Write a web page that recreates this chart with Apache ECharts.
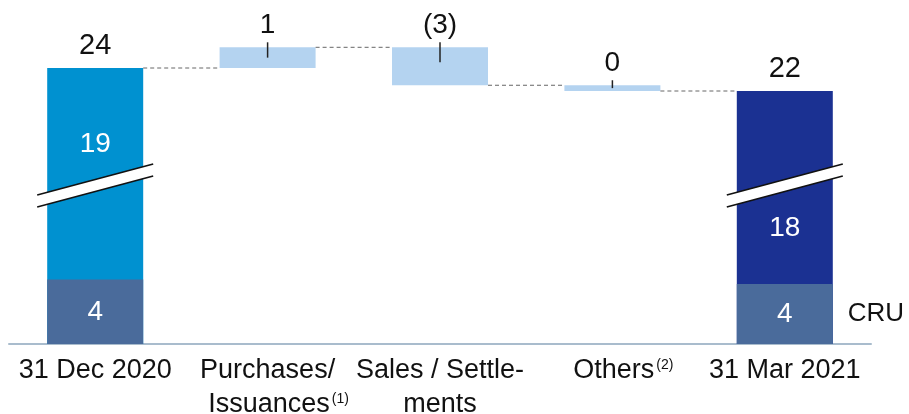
<!DOCTYPE html>
<html>
<head>
<meta charset="utf-8">
<script src="https://cdn.jsdelivr.net/npm/echarts@6/dist/echarts.min.js"></script>
<style>
  html, body { margin: 0; padding: 0; background: #fff; }
  #chart { width: 909px; height: 414px; }
</style>
</head>
<body>
<div id="chart"></div>
<script>
// data
const categories = ['31 Dec 2020', 'Purchases/\nIssuances', 'Sales / Settle-\nments', 'Others', '31 Mar 2021'];
const footnotes = ['', '(1)', '', '(2)', ''];
const openTotal = 24.0;
const closeTotal = 22.0;
const changes = [1.8, -3.3, -0.5];
const changeLabels = ['1', '(3)', '0'];
const cruValues = [4.3, 4.0]; // drawn on its own (broken) scale
const mainLabels = ['19', '18'];

const FONT = '"Liberation Sans", Arial, sans-serif';

// waterfall pieces
const totals = [openTotal, '-', '-', '-', closeTotal];
const base = ['-'];
const delta = ['-'];
const levels = [openTotal];
const ticks = [];
let level = openTotal;
changes.forEach((c, i) => {
  const lo = c >= 0 ? level : level + c;
  base.push(lo);
  delta.push(Math.abs(c));
  ticks.push([i + 1, lo + Math.abs(c), lo + Math.abs(c) / 2]);
  level += c;
  levels.push(level);
});
base.push('-');
delta.push('-');
const connectors = levels.map((v, i) => [i, v]);
const cru = [cruValues[0], '-', '-', '-', cruValues[1]];

const chart = echarts.init(document.getElementById('chart'));

const option = {
  animation: false,
  grid: { left: 9, right: 38, top: 22, bottom: 70, outerBoundsMode: 'none' },
  xAxis: {
    type: 'category',
    data: categories,
    axisLine: { lineStyle: { color: '#a9bccd', width: 2 } },
    axisTick: { show: false },
    axisLabel: {
      interval: 0,
      margin: 10,
      color: '#111',
      fontFamily: FONT,
      fontSize: 27,
      lineHeight: 34,
      formatter: (val, idx) => {
        const note = footnotes[idx];
        if (!note) return val;
        const lines = val.split('\n');
        const last = lines.pop();
        lines.push('{gap|}' + last + '{sup|' + note + '}');
        return lines.join('\n');
      },
      rich: {
        sup: { fontSize: 14, fontFamily: FONT, color: '#111', verticalAlign: 'top', padding: [4, 0, 0, 2] },
        gap: { width: 22 }
      }
    }
  },
  yAxis: [
    { type: 'value', min: 0, max: 28, show: false },
    { type: 'value', min: 0, max: 21.5, show: false }
  ],
  series: [
    {
      name: 'total',
      type: 'bar',
      barWidth: 96,
      barGap: '-100%',
      z: 2,
      data: totals.map((v, i) => v === '-' ? v : {
        value: v,
        itemStyle: { color: i === 0 ? '#0091d0' : '#1b3192' }
      }),
      label: {
        show: true, position: 'top', distance: 8,
        color: '#111', fontFamily: FONT, fontSize: 29,
        formatter: p => Math.round(p.value)
      }
    },
    {
      name: 'totalInner',
      type: 'bar',
      barWidth: 96,
      z: 2,
      itemStyle: { color: 'transparent' },
      data: totals.map((v, i) => v === '-' ? v : {
        value: v,
        label: { position: ['50%', i === 0 ? 76 : 137] }
      }),
      label: {
        show: true, align: 'center', verticalAlign: 'middle',
        color: '#fff', fontFamily: FONT, fontSize: 28,
        formatter: p => mainLabels[p.dataIndex === 0 ? 0 : 1]
      }
    },
    {
      name: 'base',
      type: 'bar',
      stack: 'wf',
      barWidth: 96,
      itemStyle: { color: 'transparent' },
      data: base
    },
    {
      name: 'change',
      type: 'bar',
      stack: 'wf',
      barWidth: 96,
      itemStyle: { color: '#b4d3f0' },
      data: delta,
      label: {
        show: true, position: 'top', distance: 8,
        color: '#111', fontFamily: FONT, fontSize: 28,
        formatter: p => changeLabels[p.dataIndex - 1]
      }
    },
    {
      name: 'CRU',
      type: 'bar',
      yAxisIndex: 1,
      barWidth: 96,
      z: 3,
      itemStyle: { color: '#4a6b9b' },
      data: cru,
      label: {
        show: true, position: 'inside',
        color: '#fff', fontFamily: FONT, fontSize: 28,
        formatter: p => Math.round(p.value)
      }
    },
    {
      name: 'cruTag',
      type: 'bar',
      yAxisIndex: 1,
      barWidth: 96,
      z: 3,
      itemStyle: { color: 'transparent' },
      data: ['-', '-', '-', '-', cruValues[1]],
      label: {
        show: true, position: 'right', distance: 15,
        color: '#111', fontFamily: FONT, fontSize: 26,
        formatter: 'CRU'
      }
    },
    {
      name: 'connectors',
      type: 'custom',
      z: 4,
      data: connectors,
      renderItem: (params, api) => {
        const p = api.coord([api.value(0), api.value(1)]);
        const band = api.size([1, 0])[0];
        return {
          type: 'line',
          shape: { x1: p[0] + 48, y1: p[1], x2: p[0] + band - 48, y2: p[1] },
          style: { stroke: '#666', lineWidth: 1, lineDash: [4, 3] }
        };
      }
    },
    {
      name: 'ticks',
      type: 'custom',
      z: 5,
      data: ticks,
      renderItem: (params, api) => {
        const top = api.coord([api.value(0), api.value(1)]);
        const mid = api.coord([api.value(0), api.value(2)]);
        return {
          type: 'line',
          shape: { x1: top[0], y1: top[1] - 5, x2: top[0], y2: Math.min(top[1] + 15, mid[1]) },
          style: { stroke: '#222', lineWidth: 1.5 }
        };
      }
    }
  ]
};

chart.setOption(option);

// break marks across the two stacked totals
const breakMarks = [];
[0, 4].forEach(idx => {
  const cx = chart.convertToPixel({ xAxisIndex: 0, yAxisIndex: 0 }, [idx, 0])[0];
  const xl = cx - 58, xr = cx + 58;
  breakMarks.push({
    type: 'polygon', z: 10,
    shape: { points: [[xl, 195], [xr, 164], [xr, 176], [xl, 207]] },
    style: { fill: '#fff' }
  });
  breakMarks.push({
    type: 'line', z: 11,
    shape: { x1: xl, y1: 195, x2: xr, y2: 164 },
    style: { stroke: '#111', lineWidth: 1.6 }
  });
  breakMarks.push({
    type: 'line', z: 11,
    shape: { x1: xl, y1: 207, x2: xr, y2: 176 },
    style: { stroke: '#111', lineWidth: 1.6 }
  });
});
chart.setOption({ graphic: breakMarks });
</script>
</body>
</html>
